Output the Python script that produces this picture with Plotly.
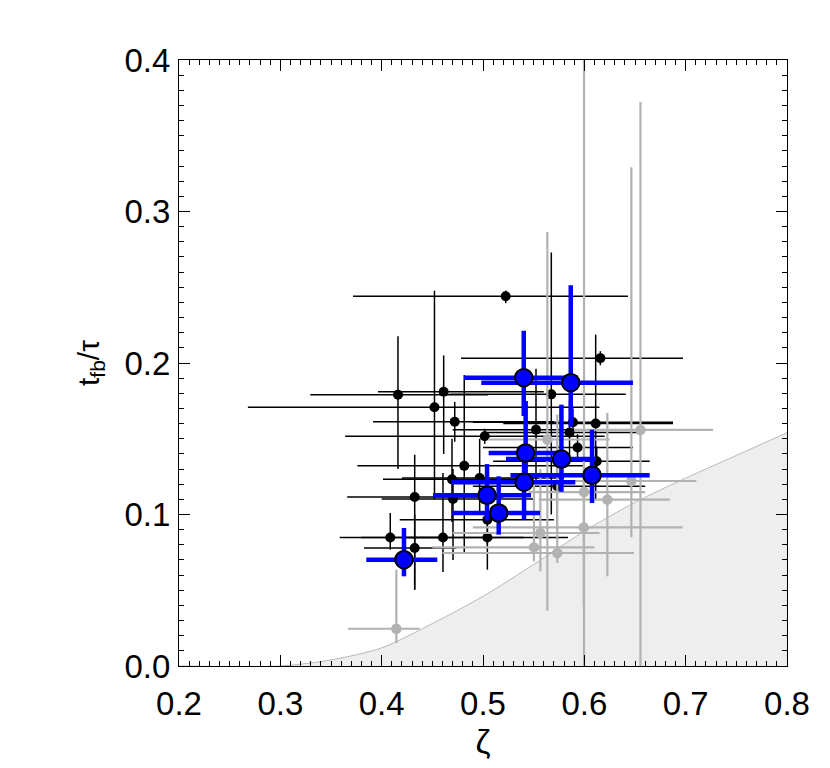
import plotly.graph_objects as go
import numpy as np

# ---- boundary (shaded region) ----
curve_x = [0.20, 0.30, 0.35, 0.40, 0.45, 0.50, 0.55, 0.60, 0.65, 0.70, 0.75, 0.80]
curve_y = [0.000, 0.000, 0.004, 0.012, 0.028, 0.046, 0.067, 0.089, 0.108, 0.124, 0.139, 0.154]

# ---- black points ----
blk_x   = [0.5224, 0.6158, 0.4161, 0.4612, 0.5674, 0.4521, 0.4721, 0.5888, 0.6112, 0.5523, 0.5017, 0.5854, 0.5933,
           0.4815, 0.6122, 0.4694, 0.4967, 0.4326, 0.4704, 0.5733, 0.5043, 0.4085, 0.4605, 0.5043, 0.4326]
blk_y   = [0.2441, 0.2032, 0.1791, 0.1810, 0.1793, 0.1708, 0.1612, 0.1609, 0.1601, 0.1560, 0.1516, 0.1541, 0.1442,
           0.1321, 0.1351, 0.1232, 0.1241, 0.1116, 0.1102, 0.1186, 0.0966, 0.0848, 0.0848, 0.0848, 0.0779]
blk_xlo = [0.3717, 0.4783, 0.3296, 0.3964, 0.4670, 0.2680, 0.3915, 0.4900, 0.5200, 0.4700, 0.3640, 0.5000, 0.5000,
           0.3760, 0.5100, 0.4013, 0.4200, 0.3660, 0.4000, 0.4900, 0.4178, 0.3586, 0.3800, 0.4200, 0.3826]
blk_xhi = [0.6430, 0.6974, 0.5050, 0.5600, 0.6410, 0.6150, 0.5700, 0.6875, 0.6875, 0.6250, 0.6200, 0.6550, 0.6480,
           0.6000, 0.6645, 0.5500, 0.5800, 0.5200, 0.5500, 0.6600, 0.5700, 0.4600, 0.5400, 0.5839, 0.4737]
blk_ylo = [0.2395, 0.1985, 0.1300, 0.1400, 0.1000, 0.1100, 0.1480, 0.1520, 0.1100, 0.1200, 0.1466, 0.1350, 0.1350,
           0.0750, 0.1250, 0.0950, 0.1000, 0.0504, 0.0700, 0.0900, 0.0800, 0.0768, 0.0620, 0.0636, 0.0504]
blk_yhi = [0.2478, 0.2078, 0.2176, 0.2050, 0.2730, 0.2477, 0.1743, 0.1700, 0.2187, 0.1962, 0.1566, 0.1750, 0.1530,
           0.1920, 0.1450, 0.1500, 0.1500, 0.1395, 0.1300, 0.1450, 0.1100, 0.1010, 0.1274, 0.0999, 0.1000]

# ---- grey points ----
gry_x   = [0.4145, 0.5635, 0.6554, 0.6464, 0.5997, 0.6227, 0.5994, 0.5566, 0.5503, 0.5733]
gry_y   = [0.0246, 0.1495, 0.1558, 0.1221, 0.1148, 0.1098, 0.0915, 0.0878, 0.0783, 0.0746]
gry_xlo = [0.3668, 0.5050, 0.5900, 0.5800, 0.5450, 0.5550, 0.4900, 0.4700, 0.4500, 0.4600]
gry_xhi = [0.4375, 0.6250, 0.7270, 0.7105, 0.6600, 0.6843, 0.6970, 0.6150, 0.6100, 0.6490]
gry_ylo = [0.0152, 0.0365, -0.0200, 0.0850, -0.0200, 0.0592, 0.0394, 0.0625, 0.0690, 0.0680]
gry_yhi = [0.0636, 0.2865, 0.3723, 0.3292, 0.4500, 0.1670, 0.1500, 0.1300, 0.1200, 0.1660]

# ---- blue points ----
blu_x   = [0.4220, 0.5155, 0.5040, 0.5405, 0.6076, 0.5774, 0.5421, 0.5402, 0.5866]
blu_y   = [0.0702, 0.1010, 0.1127, 0.1213, 0.1259, 0.1366, 0.1406, 0.1903, 0.1870]
blu_xlo = [0.3848, 0.4694, 0.4507, 0.4687, 0.5271, 0.5227, 0.5056, 0.4813, 0.4983]
blu_xhi = [0.4549, 0.5563, 0.5474, 0.5911, 0.6645, 0.6115, 0.5799, 0.5938, 0.6480]
blu_ylo = [0.0592, 0.0867, 0.0959, 0.0970, 0.1076, 0.1150, 0.1180, 0.1650, 0.1580]
blu_yhi = [0.0911, 0.1252, 0.1333, 0.1450, 0.1560, 0.1725, 0.1749, 0.2213, 0.2513]


def errs(x, lo, hi):
    x, lo, hi = np.array(x), np.array(lo), np.array(hi)
    return (hi - x).tolist(), (x - lo).tolist()


def pts(x, y, xlo, xhi, ylo, yhi, color, lw, msize, mline, mcolor):
    xp, xm = errs(x, xlo, xhi)
    yp, ym = errs(y, ylo, yhi)
    return go.Scatter(
        x=x, y=y, mode="markers",
        marker=dict(size=msize, color=mcolor, line=dict(width=mline, color="black")),
        error_x=dict(type="data", symmetric=False, array=xp, arrayminus=xm,
                     color=color, thickness=lw, width=0),
        error_y=dict(type="data", symmetric=False, array=yp, arrayminus=ym,
                     color=color, thickness=lw, width=0),
        showlegend=False, cliponaxis=True,
    )


fig = go.Figure()
fig.add_trace(go.Scatter(x=curve_x, y=curve_y, mode="lines",
                         line=dict(color="#a8a8a8", width=0.8, shape="spline", smoothing=0.8),
                         fill="tozeroy", fillcolor="#eeeeee", showlegend=False))
fig.add_trace(pts(blk_x, blk_y, blk_xlo, blk_xhi, blk_ylo, blk_yhi, "black", 1.5, 10, 0, "black"))
fig.add_trace(pts(gry_x, gry_y, gry_xlo, gry_xhi, gry_ylo, gry_yhi, "#b2b2b2", 2.2, 10.5, 0, "#b2b2b2"))
fig.add_trace(pts(blu_x, blu_y, blu_xlo, blu_xhi, blu_ylo, blu_yhi, "#0000ff", 4.5, 17.5, 2, "#0000ff"))

font = "Liberation Sans, Arial, Helvetica, sans-serif"
axis_common = dict(
    showgrid=False, zeroline=False, showline=True, linecolor="black", linewidth=1,
    mirror="ticks", ticks="inside", ticklen=11, tickwidth=1, tickcolor="black",
    tickfont=dict(family=font, size=33, color="black"), automargin=False,
)
fig.update_xaxes(range=[0.2, 0.8], dtick=0.1, tickformat=".1f",
                 minor=dict(ticks="inside", ticklen=5, dtick=0.01, tickcolor="black", tickwidth=1),
                 title=dict(text="ζ", font=dict(family=font, size=34, color="black"), standoff=5),
                 ticklabelstandoff=8, **axis_common)
fig.update_yaxes(range=[0.0, 0.4], dtick=0.1, tickformat=".1f",
                 minor=dict(ticks="inside", ticklen=5, dtick=0.01, tickcolor="black", tickwidth=1),
                 title=dict(text="t<sub>fb</sub>/τ", font=dict(family=font, size=30, color="black"), standoff=16),
                 ticklabelstandoff=1, **axis_common)
fig.update_layout(
    width=830, height=768,
    margin=dict(l=171, r=51, t=52, b=110),
    paper_bgcolor="white", plot_bgcolor="white",
)
fig.write_html("out.html")
